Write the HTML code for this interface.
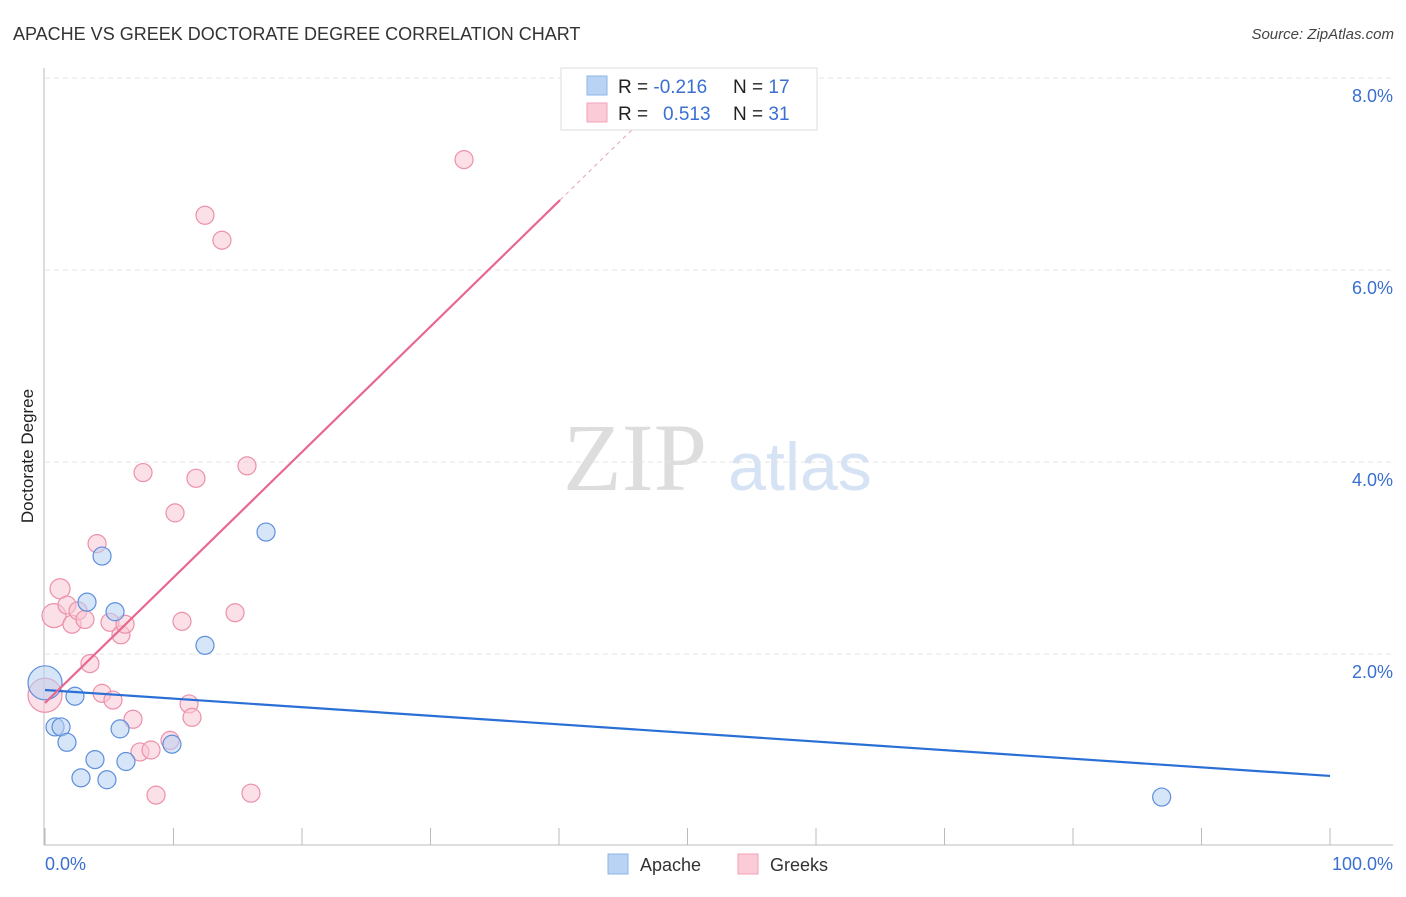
<!DOCTYPE html>
<html><head><meta charset="utf-8"><style>
body{margin:0;background:#fff;font-family:"Liberation Sans",sans-serif}
svg text{font-family:"Liberation Sans",sans-serif}
</style></head><body>
<svg id="c" width="1406" height="892">
<text x="13" y="40" font-size="18" fill="#333">APACHE VS GREEK DOCTORATE DEGREE CORRELATION CHART</text>
<text x="1394" y="39" font-size="15" fill="#444" text-anchor="end" font-style="italic">Source: ZipAtlas.com</text>
<text x="635" y="490" font-size="96" fill="#ddd" text-anchor="middle" font-family="Liberation Serif" style="font-family:'Liberation Serif',serif">ZIP</text>
<text x="800" y="490" font-size="68" fill="#d6e3f5" text-anchor="middle">atlas</text>
<text transform="translate(33,456) rotate(-90)" font-size="17" fill="#222" text-anchor="middle">Doctorate Degree</text>
<g id="grid"></g><g id="marks"></g>
<g>
<rect x="561" y="68" width="256" height="62" fill="#fff" stroke="#ddd"/>
<rect x="587" y="76" width="20" height="19" fill="#b9d3f5" stroke="#8fb4e8"/>
<rect x="587" y="103" width="20" height="19" fill="#fbcbd8" stroke="#f0a3b9"/>
<text x="618" y="93" font-size="19" fill="#222">R = <tspan fill="#3a6fd1">-0.216</tspan><tspan x="733">N = </tspan><tspan fill="#3a6fd1">17</tspan></text>
<text x="618" y="120" font-size="19" fill="#222">R = <tspan x="663" fill="#3a6fd1">0.513</tspan><tspan x="733">N = </tspan><tspan fill="#3a6fd1">31</tspan></text>
</g>
<g>
<rect x="608" y="854" width="20" height="20" fill="#b9d3f5" stroke="#8fb4e8"/>
<text x="640" y="871" font-size="18" fill="#333">Apache</text>
<rect x="738" y="854" width="20" height="20" fill="#fbcbd8" stroke="#f0a3b9"/>
<text x="770" y="871" font-size="18" fill="#333">Greeks</text>
</g>
</svg>
<script>
const yTicks=[2,4,6,8];
const yTickLabels=["2.0%","4.0%","6.0%","8.0%"];
const apacheX=[0,0.78,1.25,1.71,2.33,2.80,3.27,3.89,4.44,4.82,5.45,5.84,6.30,9.88,12.45,17.2,86.9];
const apacheY=[1.70,1.24,1.24,1.08,1.56,0.71,2.54,0.90,3.02,0.69,2.44,1.22,0.88,1.06,2.09,3.27,0.51];
const apacheR=[17,9,9,9,9,9,9,9,9,9,9,9,9,9,9,9,9];
const greeksX=[0,0.70,1.17,1.71,2.10,2.57,3.11,3.50,4.05,4.44,5.06,5.29,5.91,6.23,6.85,7.39,7.63,8.25,8.64,9.73,10.12,10.66,11.21,11.44,11.75,12.45,13.77,14.79,15.72,16.03,32.61];
const greeksY=[1.57,2.40,2.68,2.51,2.31,2.45,2.36,1.90,3.15,1.59,2.33,1.52,2.20,2.31,1.32,0.98,3.89,1.00,0.53,1.10,3.47,2.34,1.48,1.34,3.83,6.57,6.31,2.43,3.96,0.55,7.15];
const greeksR=[17,12,10,9,9,9,9,9,9,9,9,9,9,9,9,9,9,9,9,9,9,9,9,9,9,9,9,9,9,9,9];
const apacheTrend=[1.625,0.73];
const greeksTrend=[1.49,0.1307];
const NS="http://www.w3.org/2000/svg";
const X=v=>45+v*12.85, Y=v=>846-v*96;
function mk(t,a,p){const e=document.createElementNS(NS,t);for(const k in a)e.setAttribute(k,a[k]);p.appendChild(e);return e;}
const g=document.getElementById('grid'), m=document.getElementById('marks');
yTicks.forEach((t,i)=>{
 const l=mk('line',{x1:45,x2:1393,y1:Y(t),y2:Y(t),stroke:'#e3e3e3','stroke-dasharray':'5,4'},g);
 
 
 const tx=mk('text',{x:1393,y:Y(t)+24,'font-size':18,fill:'#3a6fd1','text-anchor':'end'},g);
 tx.textContent=yTickLabels[i];
 
 
});
const ax=mk('line',{x1:44,x2:44,y1:68,y2:845,stroke:'#bbb'},g);


const bx=mk('line',{x1:44,x2:1393,y1:845,y2:845,stroke:'#bbb'},g);


for(let i=0;i<=10;i++){const t=mk('line',{x1:X(i*10),x2:X(i*10),y1:828,y2:845,stroke:'#bbb'},g);
 
 }
const l0=mk('text',{x:45,y:870,'font-size':18,fill:'#3a6fd1'},g);l0.textContent='0.0%';


const l1=mk('text',{x:1393,y:870,'font-size':18,fill:'#3a6fd1','text-anchor':'end'},g);l1.textContent='100.0%';


function pts(xs,ys,rs,fill,stroke,name){xs.forEach((x,i)=>{const c=mk('circle',{cx:X(x),cy:Y(ys[i]),r:rs[i],fill:fill,'fill-opacity':0.55,stroke:stroke,'stroke-width':1.2},m);
 
 });}
pts(greeksX,greeksY,greeksR,'#f9c6d4','#ec90aa','greeks-point');
pts(apacheX,apacheY,apacheR,'#b6d0f3','#5d8fdc','apache-point');
const at=mk('line',{x1:X(0),y1:Y(apacheTrend[0]),x2:X(100),y2:Y(apacheTrend[1]),stroke:'#2a6fd6','stroke-width':2.2},m);


const gt=mk('line',{x1:X(0),y1:Y(greeksTrend[0]),x2:X(40.08),y2:Y(greeksTrend[0]+greeksTrend[1]*40.08),stroke:'#e8678f','stroke-width':2.2},m);


const gd=mk('line',{x1:X(40.08),y1:Y(greeksTrend[0]+greeksTrend[1]*40.08),x2:X(46),y2:Y(greeksTrend[0]+greeksTrend[1]*46),stroke:'#e8a0b6','stroke-width':1,'stroke-dasharray':'4,4'},m);


</script>
</body></html>
